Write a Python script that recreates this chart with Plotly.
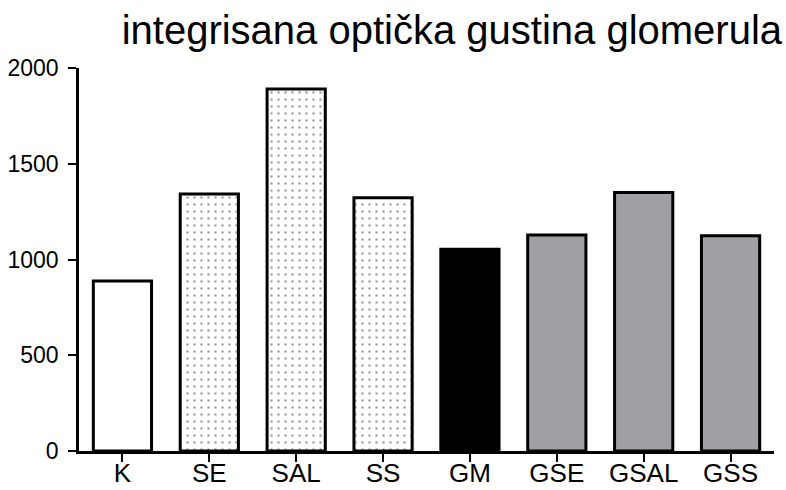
import plotly.graph_objects as go

# Integrated optical density of glomeruli per group
groups = ["K", "SE", "SAL", "SS", "GM", "GSE", "GSAL", "GSS"]
density = [888, 1342, 1890, 1322, 1053, 1128, 1350, 1124]

fill_colors = ["#ffffff", "#ffffff", "#ffffff", "#ffffff",
               "#000000", "#a09fa4", "#a09fa4", "#a09fa4"]
pattern_shapes = ["", ".", ".", ".", "", "", "", ""]

fig = go.Figure(
    go.Bar(
        x=groups,
        y=density,
        marker=dict(
            color=fill_colors,
            line=dict(color="#000000", width=3),
            pattern=dict(
                shape=pattern_shapes,
                fgcolor="#000000",
                bgcolor="#ffffff",
                size=7,
                solidity=0.1,
            ),
        ),
        width=0.67,
    )
)

fig.update_layout(
    width=786,
    height=490,
    margin=dict(l=79, r=12, t=68, b=39),
    paper_bgcolor="#ffffff",
    plot_bgcolor="#ffffff",
    showlegend=False,
    font=dict(family="Liberation Sans, Arial, sans-serif", color="#000000"),
    title=dict(
        text="integrisana optička gustina glomerula",
        font=dict(size=40, color="#000000"),
        xref="container",
        x=0.995,
        xanchor="right",
        yref="container",
        y=0.938,
        yanchor="middle",
    ),
)

fig.update_xaxes(
    range=[-0.5, 7.5],
    showline=True,
    linecolor="#000000",
    linewidth=2.5,
    ticks="outside",
    ticklen=8,
    tickwidth=2,
    tickcolor="#000000",
    tickfont=dict(size=26),
    ticklabelstandoff=-11,
    showgrid=False,
    zeroline=False,
    automargin=False,
)

fig.update_yaxes(
    range=[0, 2000],
    tickvals=[0, 500, 1000, 1500, 2000],
    showline=True,
    linecolor="#000000",
    linewidth=2.5,
    ticks="outside",
    ticklen=8,
    tickwidth=2,
    tickcolor="#000000",
    tickfont=dict(size=23),
    ticklabelstandoff=5,
    showgrid=False,
    zeroline=False,
    automargin=False,
)

fig.write_html("out.html")
